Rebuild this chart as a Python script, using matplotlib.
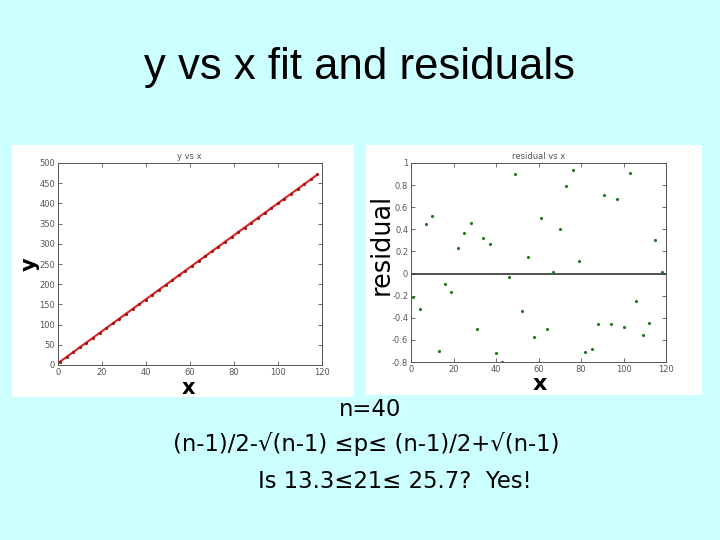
import numpy as np
import matplotlib.pyplot as plt
from matplotlib.patches import Rectangle

# data
x = [1, 4, 7, 10, 13, 16, 19, 22, 25, 28, 31, 34, 37, 40, 43, 46, 49, 52, 55, 58,
     61, 64, 67, 70, 73, 76, 79, 82, 85, 88, 91, 94, 97, 100, 103, 106, 109, 112, 115, 118]
y = [8, 20, 32, 44, 55, 67, 79, 91, 103, 115, 126, 139, 151, 162, 174, 186, 199, 210, 222, 233,
     246, 257, 269, 281, 293, 305, 317, 328, 340, 352, 365, 376, 388, 400, 412, 423, 435, 447, 460, 472]
resid = [-0.21, -0.32, 0.45, 0.52, -0.70, -0.09, -0.17, 0.23, 0.37, 0.46,
         -0.50, 0.32, 0.27, -0.72, -0.80, -0.03, 0.90, -0.34, 0.15, -0.57,
         0.50, -0.50, 0.01, 0.40, 0.79, 0.94, 0.11, -0.71, -0.68, -0.46,
         0.71, -0.46, 0.67, -0.48, 0.91, -0.25, -0.56, -0.45, 0.30, 0.01]
note_lines = ['n=40', '(n-1)/2-\u221a(n-1) \u2264p\u2264 (n-1)/2+\u221a(n-1)', 'Is 13.3\u226421\u2264 25.7?  Yes!']

W, H = 720, 540
bg = '#ccffff'
fig = plt.figure(figsize=(7.2, 5.4), dpi=100, facecolor=bg)

def px(l, t, r, b):
    return [l / W, 1 - b / H, (r - l) / W, (b - t) / H]

# white panels behind each plot
for l, t, r, b in [(12, 145, 354, 397), (366, 145, 702, 395)]:
    fig.add_artist(Rectangle((l / W, 1 - b / H), (r - l) / W, (b - t) / H,
                             transform=fig.transFigure, facecolor='white', edgecolor='none', zorder=-5))

fig.text(0.5, 1 - 68 / H, 'y vs x fit and residuals', ha='center', va='center',
         fontsize=31.5, family='Liberation Sans')

def matlab_style(ax):
    ax.tick_params(direction='in', top=True, right=True, labelsize=6, colors='#555555',
                   length=3, width=0.6, pad=2)
    for s in ax.spines.values():
        s.set_color('#555555')
        s.set_linewidth(0.7)

# y vs x
ax1 = fig.add_axes(px(57.7, 163, 321.7, 365))
coef = np.polyfit(x, y, 1)
xs = np.array([min(x), max(x)])
ax1.plot(xs, np.polyval(coef, xs), color='#dd2222', lw=1.5)
ax1.plot(x, y, '.', color='#991111', ms=2.5)
ax1.set_xlim(0, 120)
ax1.set_ylim(0, 500)
ax1.set_xticks(range(0, 121, 20))
ax1.set_yticks(range(0, 501, 50))
ax1.set_title('y vs x', fontsize=6, color='#555555', pad=3)
matlab_style(ax1)
fig.text(188 / W, 1 - 388 / H, 'x', ha='center', va='center', fontsize=15, fontweight='bold')
fig.text(30 / W, 1 - 264 / H, 'y', ha='center', va='center', fontsize=15, fontweight='bold', rotation=90)

# residual vs x
ax2 = fig.add_axes(px(411, 163, 666, 362))
ax2.axhline(0, color='#333333', lw=1.2)
ax2.plot(x, resid, '.', color='#227722', ms=2.5)
ax2.set_xlim(0, 120)
ax2.set_ylim(-0.8, 1)
ax2.set_xticks(range(0, 121, 20))
ax2.set_yticks(np.round(np.arange(-0.8, 1.01, 0.2), 1))
ax2.set_yticklabels(['-0.8', '-0.6', '-0.4', '-0.2', '0', '0.2', '0.4', '0.6', '0.8', '1'])
ax2.set_title('residual vs x', fontsize=6, color='#555555', pad=3)
matlab_style(ax2)
fig.text(540 / W, 1 - 384 / H, 'x', ha='center', va='center', fontsize=16, fontweight='bold')
fig.text(382 / W, 1 - 244 / H, 'residual', ha='center', va='center', fontsize=18.4, rotation=90)

# notes under the plots
for txt, xc, yc in zip(note_lines, [370, 366, 395], [409, 444, 481]):
    fig.text(xc / W, 1 - yc / H, txt, ha='center', va='center', fontsize=16.4, family='DejaVu Sans')

fig.savefig('out.png', dpi=100, facecolor=bg)
